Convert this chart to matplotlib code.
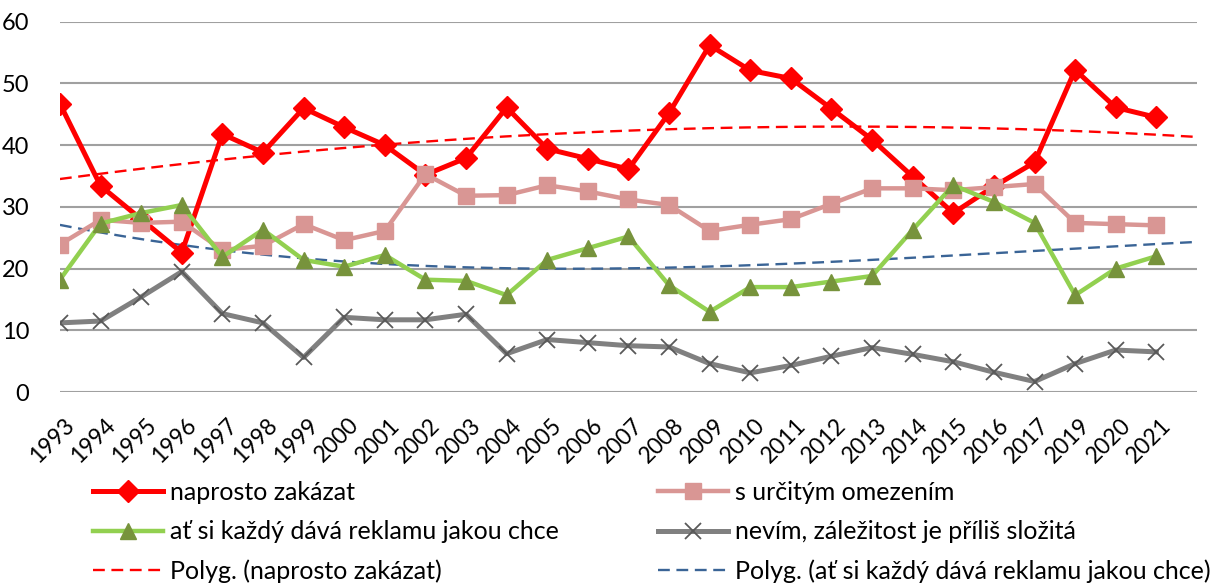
import numpy as np
import matplotlib
matplotlib.use("Agg")
import matplotlib.pyplot as plt

plt.rcParams['font.family'] = ['Lato', 'DejaVu Sans']

years = ["1993", "1994", "1995", "1996", "1997", "1998", "1999", "2000", "2001",
         "2002", "2003", "2004", "2005", "2006", "2007", "2008", "2009", "2010",
         "2011", "2012", "2013", "2014", "2015", "2016", "2017", "2019", "2020", "2021"]

zakazat = [46.7, 33.4, 28.0, 22.6, 41.8, 38.8, 46.0, 42.9, 40.0, 35.2, 37.9, 46.1,
           39.4, 37.8, 36.1, 45.2, 56.2, 52.1, 50.8, 45.9, 40.9, 34.9, 29.0, 33.3,
           37.2, 52.2, 46.1, 44.5]
omezeni = [23.9, 27.9, 27.4, 27.6, 23.0, 23.7, 27.2, 24.6, 26.1, 35.3, 31.8, 31.9,
           33.5, 32.5, 31.2, 30.3, 26.1, 27.1, 28.0, 30.5, 33.0, 33.0, 32.7, 33.2,
           33.7, 27.4, 27.2, 27.0]
kazdy = [18.2, 27.3, 29.0, 30.3, 21.9, 26.3, 21.4, 20.3, 22.2, 18.2, 18.0, 15.7,
         21.4, 23.3, 25.2, 17.3, 13.0, 17.0, 17.0, 17.9, 18.8, 26.3, 33.5, 30.8,
         27.4, 15.7, 20.0, 22.0]
nevim = [11.2, 11.5, 15.4, 19.5, 12.7, 11.2, 5.6, 12.1, 11.7, 11.7, 12.6, 6.2,
         8.5, 8.0, 7.5, 7.3, 4.6, 3.1, 4.3, 5.8, 7.2, 6.1, 4.9, 3.2, 1.7, 4.6, 6.8, 6.5]

labels = ["naprosto zakázat", "s určitým omezením",
          "ať si každý dává reklamu jakou chce", "nevím, záležitost je příliš složitá",
          "Polyg. (naprosto zakázat)", "Polyg. (ať si každý dává reklamu jakou chce)"]


def main():
    x = np.arange(len(years))
    fig = plt.figure(figsize=(12.11, 5.85), dpi=100)
    ax = fig.add_axes([0.0495, 0.3299, 0.9389, 0.633])

    # polynomial trendlines, extended one period forward like Excel
    xt = np.linspace(0, len(years), 200)
    p_red = np.polyfit(x, zakazat, 2)
    p_green = np.polyfit(x, kazdy, 3)

    dash = (0, (5, 2.8))
    ax.plot(xt, np.polyval(p_red, xt), color="#FF0000", lw=1.7, ls=dash, zorder=2)
    ax.plot(xt, np.polyval(p_green, xt), color="#3A6496", lw=1.7, ls=dash, zorder=2)

    l1, = ax.plot(x, zakazat, color="#FF0000", lw=3.6, marker="D", ms=11,
                  mfc="#FF0000", mec="#FF0000", zorder=3)
    l2, = ax.plot(x, omezeni, color="#D99694", lw=3.2, marker="s", ms=11,
                  mfc="#D99694", mec="#D99694", zorder=4)
    l3, = ax.plot(x, kazdy, color="#92D050", lw=3.2, marker="^", ms=12,
                  mfc="#77933C", mec="#77933C", zorder=5)
    l4, = ax.plot(x, nevim, color="#808080", lw=3.6, marker="x", ms=11, mew=1.3,
                  mec="#595959", zorder=6)

    t1, = ax.plot([], [], color="#FF0000", lw=1.7, ls=dash)
    t2, = ax.plot([], [], color="#3A6496", lw=1.7, ls=dash)

    ax.set_xlim(0, len(years))
    ax.set_ylim(0, 60)
    ax.set_yticks(range(0, 61, 10))
    # no x grid or tick marks, so nudge the label anchors slightly right
    ax.set_xticks(x + 0.1)
    ax.set_xticklabels(years, rotation=45, ha="right", va="top",
                       rotation_mode="anchor", fontsize=16.5)
    ax.tick_params(axis="x", length=0, pad=16)
    ax.tick_params(axis="y", length=0, labelsize=17, pad=22)
    ax.grid(axis="y", color="#A0A0A0", lw=1.5)
    ax.set_axisbelow(True)
    for s in ax.spines.values():
        s.set_visible(False)

    kw = dict(frameon=False, fontsize=18, handlelength=2.8, handletextpad=0.28,
              labelspacing=0.65, borderpad=0, borderaxespad=0, loc="upper left")
    fig.legend([l1, l3, t1], [labels[0], labels[2], labels[4]],
               bbox_to_anchor=(93 / 1211, 1 - 481 / 585), **kw)
    fig.legend([l2, l4, t2], [labels[1], labels[3], labels[5]],
               bbox_to_anchor=(658 / 1211, 1 - 481 / 585), **kw)

    fig.savefig("out.png", dpi=100)


if __name__ == "__main__":
    main()
